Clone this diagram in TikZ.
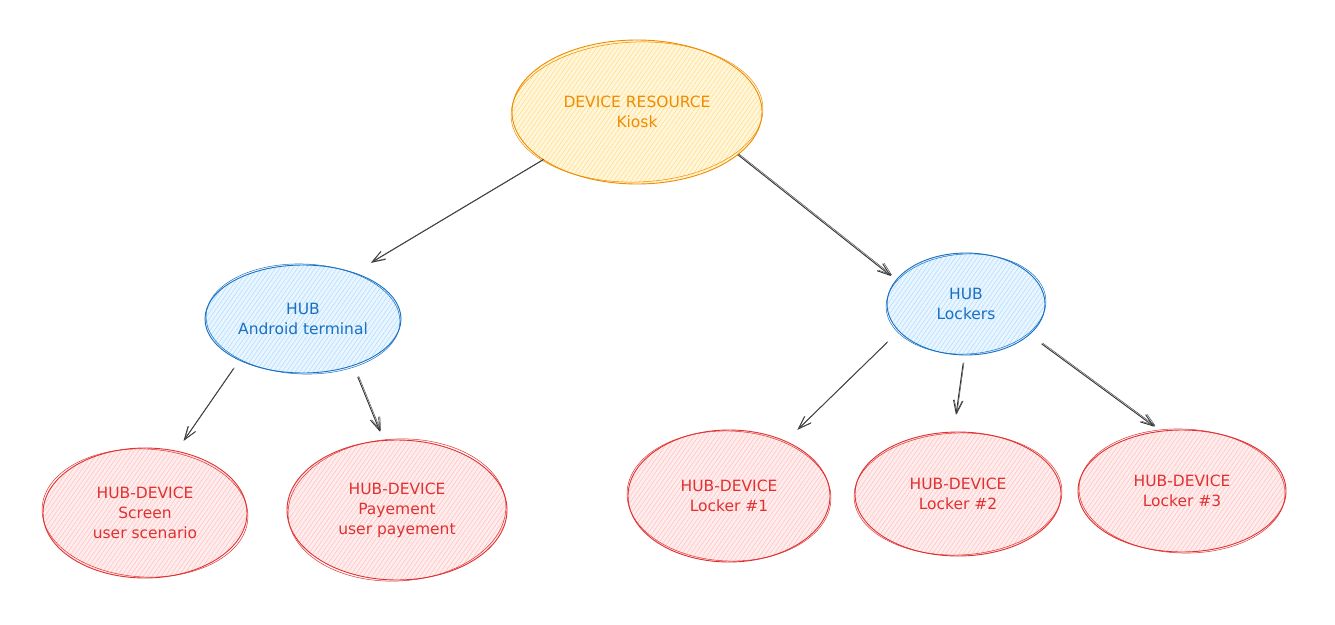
\documentclass[tikz,border=0pt]{standalone}
\usepackage{fontspec}
\setmainfont{DejaVu Sans}
\usetikzlibrary{shapes.geometric, arrows.meta, patterns.meta}
\definecolor{orS}{HTML}{F08C00}
\definecolor{orF}{HTML}{FFE08A}
\definecolor{blS}{HTML}{1971C2}
\definecolor{blF}{HTML}{B5DEFF}
\definecolor{rdS}{HTML}{E03131}
\definecolor{rdF}{HTML}{FFC4C4}
\tikzset{
  bub/.style={ellipse, draw=#1S, line width=0.9pt,
    preaction={fill=#1F!30},
    pattern={Lines[angle=55,distance=3.6pt,line width=0.6pt]}, pattern color=#1F,
    text=#1S, align=center, inner sep=0pt,
    font=\fontsize{15.5}{20}\selectfont},
  arr/.style={draw=black!80, line width=0.9pt, -{Straight Barb[length=13pt,width=9pt]},
    postaction={draw=black!70, line width=0.5pt, transform canvas={shift={(0.9pt,0.9pt)}}}},
}
\newcommand{\skt}[5]{\draw[#4S, line width=0.5pt, rotate around={#5:(#1.center)}] (#1.center) ellipse [x radius=#2, y radius=#3];}
\begin{document}
\begin{tikzpicture}[x=1pt, y=-1pt]
\fill[white] (0,0) rectangle (1335,624);
\useasboundingbox (0,0) rectangle (1335,624);

\node[bub=or, minimum width=250pt, minimum height=144pt] (k) at (637,112) {DEVICE RESOURCE\\Kiosk};
\skt{k}{126}{70}{or}{2}
\node[bub=bl, minimum width=196pt, minimum height=108pt] (a) at (303,319) {HUB\\Android terminal};
\skt{a}{97}{55}{bl}{-2}
\node[bub=bl, minimum width=158pt, minimum height=102pt] (l) at (966,304) {HUB\\Lockers};
\skt{l}{80}{50}{bl}{3}
\node[bub=rd, minimum width=204pt, minimum height=130pt] (s) at (145,513) {HUB-DEVICE\\Screen\\user scenario};
\skt{s}{103}{64}{rd}{-3}
\node[bub=rd, minimum width=220pt, minimum height=140pt] (p) at (397,510) {HUB-DEVICE\\Payement\\user payement};
\skt{p}{109}{71}{rd}{3}
\node[bub=rd, minimum width=202pt, minimum height=132pt] (l1) at (729,496) {HUB-DEVICE\\Locker \#1};
\skt{l1}{102}{65}{rd}{-2}
\node[bub=rd, minimum width=206pt, minimum height=124pt] (l2) at (958,494) {HUB-DEVICE\\Locker \#2};
\skt{l2}{104}{61}{rd}{2}
\node[bub=rd, minimum width=208pt, minimum height=122pt] (l3) at (1182,491) {HUB-DEVICE\\Locker \#3};
\skt{l3}{103}{62}{rd}{-2}

\draw[arr, shorten >=19pt] (k.207.6) -- (a.42.7);
\draw[arr, shorten >=6pt] (k.-23) -- (l.161);
\draw[arr, shorten <=10pt, shorten >=12pt] (a.213.5) -- (s.63);
\draw[arr, shorten <=12pt, shorten >=9pt] (a.-43) -- (p.101.6);
\draw[arr, shorten <=16pt, shorten >=16pt] (l.202) -- (l1.44);
\draw[arr, shorten <=8pt, shorten >=17pt] (l.-92) -- (l2.94);
\draw[arr, shorten <=15pt, shorten >=7pt] (l.-26.6) -- (l3.110.7);
\end{tikzpicture}
\end{document}
